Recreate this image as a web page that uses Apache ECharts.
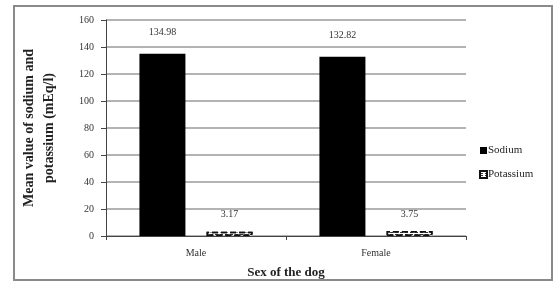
<!DOCTYPE html>
<html>
<head>
<meta charset="utf-8">
<script src="https://cdn.jsdelivr.net/npm/echarts@6/dist/echarts.min.js"></script>
<style>
  html, body { margin: 0; padding: 0; background: #fff; }
  #frame { position: absolute; left: 13px; top: 5px; width: 540px; height: 276px; border: 2px solid #8a8a8a; box-sizing: border-box; }
  #chart { position: absolute; left: 0; top: 0; width: 558px; height: 284px; }
</style>
</head>
<body>
<div id="frame"></div>
<div id="chart"></div>
<script>
  // categories and values
  var categories = ['Male', 'Female']
  var sodium = [134.98, 132.82]
  var potassium = [3.17, 3.75]
  var yTicks = [0, 20, 40, 60, 80, 100, 120, 140, 160]

  var font = '"Liberation Serif", "DejaVu Serif", serif'
  var chart = echarts.init(document.getElementById('chart'))
  var option = {
    animation: false,
    textStyle: { fontFamily: font },
    grid: { left: 106, right: 92, top: 20, bottom: 46, containLabel: false },
    legend: {
      orient: 'vertical',
      left: 474,
      top: 140,
      icon: 'rect',
      itemWidth: 7,
      itemHeight: 7,
      itemGap: 13,
      textStyle: { fontFamily: font, fontSize: 11, color: '#222', padding: [0, 0, 0, -4] },
      data: ['Sodium', 'Potassium']
    },
    xAxis: {
      type: 'category',
      data: categories,
      name: 'Sex of the dog',
      nameLocation: 'middle',
      nameGap: 30,
      nameTextStyle: { fontFamily: font, fontSize: 13, fontWeight: 'bold', color: '#222' },
      axisLine: { lineStyle: { color: '#444', width: 1 } },
      axisTick: { show: true, length: 4, lineStyle: { color: '#444' } },
      axisLabel: { fontFamily: font, fontSize: 10, color: '#333', margin: 12 },
      splitLine: { show: false }
    },
    yAxis: {
      type: 'value',
      min: yTicks[0],
      max: yTicks[yTicks.length - 1],
      interval: 20,
      name: 'Mean value of sodium and\npotassium (mEq/l)',
      nameLocation: 'middle',
      nameGap: 47,
      nameTextStyle: { fontFamily: font, fontSize: 14, fontWeight: 'bold', color: '#222', lineHeight: 20 },
      axisLine: { show: true, lineStyle: { color: '#444', width: 1 } },
      axisTick: { show: true, length: 5, lineStyle: { color: '#444' } },
      axisLabel: { fontFamily: font, fontSize: 10, color: '#333', margin: 12 },
      splitLine: { show: true, lineStyle: { color: '#9a9a9a', width: 1.5 } }
    },
    series: [
      {
        name: 'Sodium',
        type: 'bar',
        barWidth: 46,
        barGap: '46%',
        data: sodium,
        itemStyle: { color: '#000' },
        label: { show: true, position: 'top', distance: 16, fontFamily: font, fontSize: 10, color: '#333', formatter: function (p) { return p.value.toFixed(2) } }
      },
      {
        name: 'Potassium',
        type: 'bar',
        barWidth: 46,
        data: potassium,
        itemStyle: {
          color: '#fff',
          borderColor: '#111',
          borderWidth: 1.5,
          borderType: 'dashed',
          decal: { symbol: 'rect', dashArrayX: [3, 2], dashArrayY: [1, 1], color: '#333', rotation: 0, symbolSize: 1 }
        },
        label: { show: true, position: 'top', distance: 12, fontFamily: font, fontSize: 10, color: '#333', formatter: function (p) { return p.value.toFixed(2) } }
      }
    ]
  }
  chart.setOption(option, true)
  window.onresize = chart.resize
</script>
</body>
</html>
